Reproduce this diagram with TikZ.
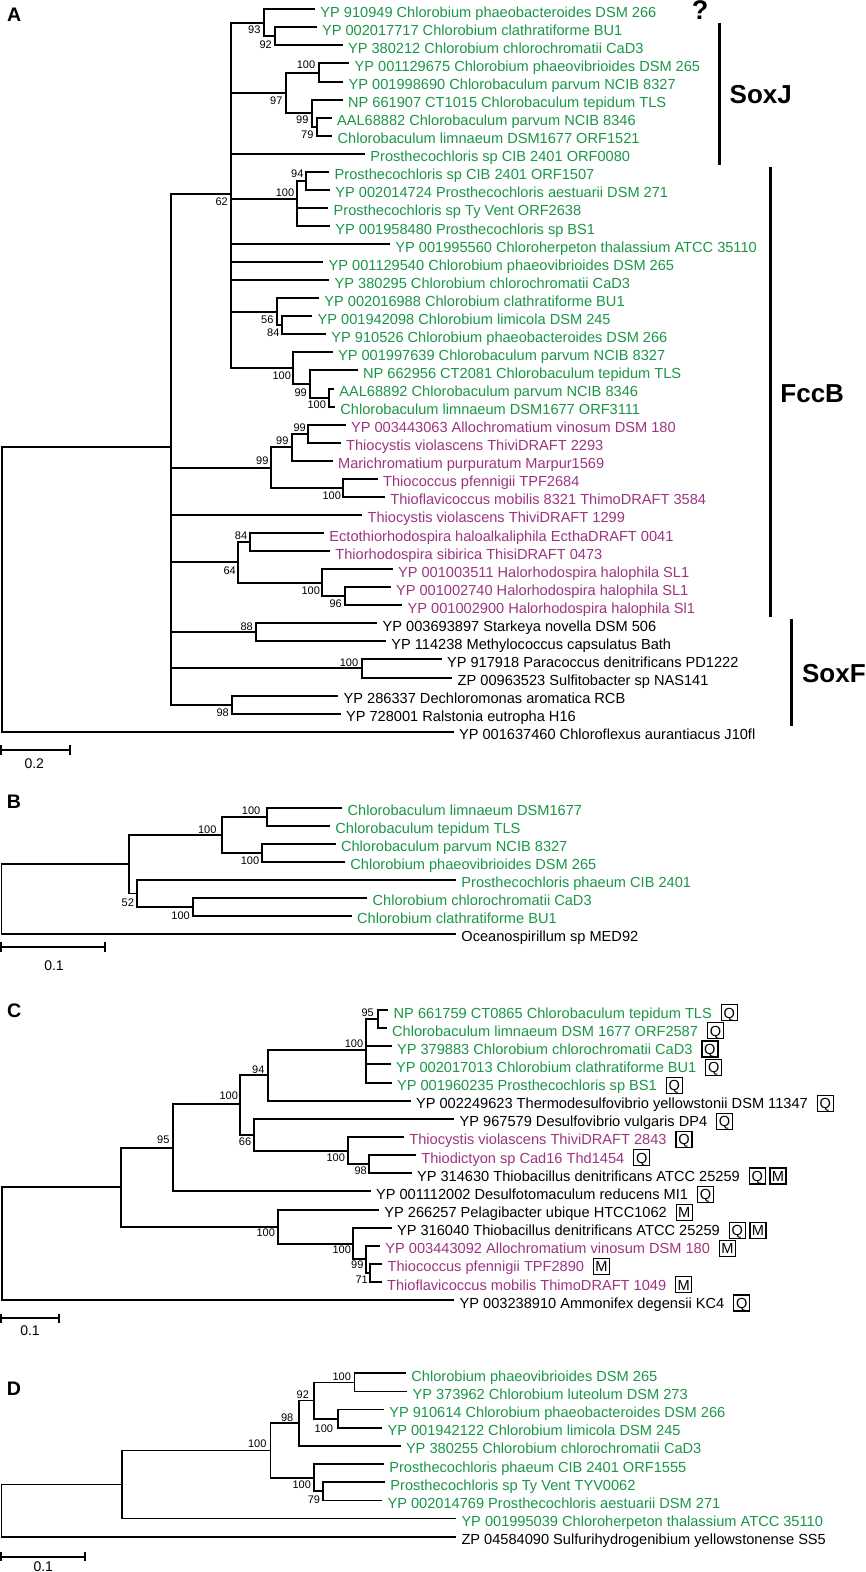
\documentclass[tikz,border=0pt]{standalone}
\usepackage{fontspec}
\setmainfont{Liberation Sans}
\definecolor{gr}{RGB}{26,150,72}
\definecolor{pu}{RGB}{158,52,128}
\tikzset{
 br/.style={line width=1pt},
 brt/.style={line width=0.85pt},
 leaf/.style={anchor=base west, inner sep=0pt, font=\fontsize{7.3}{8}\selectfont},
 bs/.style={inner sep=0pt, font=\fontsize{5.5}{6}\selectfont},
 sclab/.style={inner sep=0pt, font=\fontsize{7}{8}\selectfont},
 panel/.style={inner sep=0pt, font=\fontsize{9.8}{10}\selectfont\bfseries},
 grp/.style={anchor=west, inner sep=0pt, font=\fontsize{13}{14}\selectfont\bfseries},
 grpbar/.style={line width=1.5pt},
 badge/.style={draw, line width=0.6pt, anchor=base west, minimum width=8pt, minimum height=8pt, inner sep=0pt, text height=5.3pt, text depth=0pt, font=\fontsize{7.3}{8}\selectfont},
}
\newcommand{\leafnode}[5]{\coordinate (#1) at ({#2-5},#3);
  \node[leaf,text=#4] (#1t) at ([xshift=2.5pt,yshift=-4pt]#1) {#5};}
\newcommand{\badgenode}[3]{\node[badge] (#1) at ([xshift=4.2pt]#2.base east) {#3};}
\newcommand{\badgenext}[3]{\node[badge] (#1) at ([xshift=1.8pt]#2.base east) {#3};}
\begin{document}
\begin{tikzpicture}[x=0.5pt,y=-0.5pt]
\useasboundingbox (0,0) rectangle (866,1572);

%%%%%%%%%%%%%%%% Panel A
\node[panel] (pA) at (14.3,15) {A};
\begin{scope}[shift={(0,-8.76)}, y=-9.03pt]
\coordinate (nA0) at (1.5,33.1);
\coordinate (nAX) at (171.3,25.25);
\coordinate (n62) at (231,11.25);
\coordinate (n93) at (264,1.75);
\coordinate (n92) at (275,2.5);
\coordinate (n97) at (285.7,5.625);
\coordinate (n100a) at (319,4.5);
\coordinate (n99a) at (311.7,6.75);
\coordinate (n79) at (316.7,7.5);
\coordinate (n100b) at (297.3,11.5);
\coordinate (n94) at (306,10.5);
\coordinate (n56) at (276.7,17.75);
\coordinate (n84a) at (282,18.5);
\coordinate (n100c) at (293.3,20.875);
\coordinate (n99b) at (310,21.75);
\coordinate (n100d) at (329.3,22.5);
\coordinate (n99p3) at (271,26.375);
\coordinate (n99p2) at (291.7,25.25);
\coordinate (n99p1) at (308.3,24.5);
\coordinate (n100p) at (343.3,27.5);
\coordinate (n64) at (238.3,31.625);
\coordinate (n84b) at (250,30.5);
\coordinate (n100h) at (322.3,32.75);
\coordinate (n96) at (345,33.5);
\coordinate (n88) at (255.7,35.5);
\coordinate (n100s) at (361.7,37.5);
\coordinate (n98) at (231.7,39.5);

\leafnode{a1}{320}{1}{gr}{YP 910949 Chlorobium phaeobacteroides DSM 266}
\leafnode{a2}{321.7}{2}{gr}{YP 002017717 Chlorobium clathratiforme BU1}
\leafnode{a3}{347.7}{3}{gr}{YP 380212 Chlorobium chlorochromatii CaD3}
\leafnode{a4}{354.3}{4}{gr}{YP 001129675 Chlorobium phaeovibrioides DSM 265}
\leafnode{a5}{348.3}{5}{gr}{YP 001998690 Chlorobaculum parvum NCIB 8327}
\leafnode{a6}{347.7}{6}{gr}{NP 661907 CT1015 Chlorobaculum tepidum TLS}
\leafnode{a7}{336.7}{7}{gr}{AAL68882 Chlorobaculum parvum NCIB 8346}
\leafnode{a8}{337.3}{8}{gr}{Chlorobaculum limnaeum DSM1677 ORF1521}
\leafnode{a9}{370}{9}{gr}{Prosthecochloris sp CIB 2401 ORF0080}
\leafnode{a10}{334.3}{10}{gr}{Prosthecochloris sp CIB 2401 ORF1507}
\leafnode{a11}{335}{11}{gr}{YP 002014724 Prosthecochloris aestuarii DSM 271}
\leafnode{a12}{333.3}{12}{gr}{Prosthecochloris sp Ty Vent ORF2638}
\leafnode{a13}{335}{13}{gr}{YP 001958480 Prosthecochloris sp BS1}
\leafnode{a14}{395}{14}{gr}{YP 001995560 Chloroherpeton thalassium ATCC 35110}
\leafnode{a15}{328.3}{15}{gr}{YP 001129540 Chlorobium phaeovibrioides DSM 265}
\leafnode{a16}{334.3}{16}{gr}{YP 380295 Chlorobium chlorochromatii CaD3}
\leafnode{a17}{324}{17}{gr}{YP 002016988 Chlorobium clathratiforme BU1}
\leafnode{a18}{317.3}{18}{gr}{YP 001942098 Chlorobium limicola DSM 245}
\leafnode{a19}{331}{19}{gr}{YP 910526 Chlorobium phaeobacteroides DSM 266}
\leafnode{a20}{337.7}{20}{gr}{YP 001997639 Chlorobaculum parvum NCIB 8327}
\leafnode{a21}{362.7}{21}{gr}{NP 662956 CT2081 Chlorobaculum tepidum TLS}
\leafnode{a22}{339}{22}{gr}{AAL68892 Chlorobaculum parvum NCIB 8346}
\leafnode{a23}{340}{23}{gr}{Chlorobaculum limnaeum DSM1677 ORF3111}
\leafnode{a24}{350.7}{24}{pu}{YP 003443063 Allochromatium vinosum DSM 180}
\leafnode{a25}{345.7}{25}{pu}{Thiocystis violascens ThiviDRAFT 2293}
\leafnode{a26}{337.7}{26}{pu}{Marichromatium purpuratum Marpur1569}
\leafnode{a27}{382.7}{27}{pu}{Thiococcus pfennigii TPF2684}
\leafnode{a28}{390}{28}{pu}{Thioflavicoccus mobilis 8321 ThimoDRAFT 3584}
\leafnode{a29}{367.3}{29}{pu}{Thiocystis violascens ThiviDRAFT 1299}
\leafnode{a30}{329}{30}{pu}{Ectothiorhodospira haloalkaliphila EcthaDRAFT 0041}
\leafnode{a31}{335}{31}{pu}{Thiorhodospira sibirica ThisiDRAFT 0473}
\leafnode{a32}{397.7}{32}{pu}{YP 001003511 Halorhodospira halophila SL1}
\leafnode{a33}{395.7}{33}{pu}{YP 001002740 Halorhodospira halophila SL1}
\leafnode{a34}{407.3}{34}{pu}{YP 001002900 Halorhodospira halophila Sl1}
\leafnode{a35}{382.3}{35}{black}{YP 003693897 Starkeya novella DSM 506}
\leafnode{a36}{391}{36}{black}{YP 114238 Methylococcus capsulatus Bath}
\leafnode{a37}{446.7}{37}{black}{YP 917918 Paracoccus denitrificans PD1222}
\leafnode{a38}{457.3}{38}{black}{ZP 00963523 Sulfitobacter sp NAS141}
\leafnode{a39}{343.3}{39}{black}{YP 286337 Dechloromonas aromatica RCB}
\leafnode{a40}{345.7}{40}{black}{YP 728001 Ralstonia eutropha H16}
\leafnode{a41}{458.7}{41}{black}{YP 001637460 Chloroflexus aurantiacus J10fl}

\foreach \p/\c in {nA0/nAX,nA0/a41,
  nAX/n62,nAX/n99p3,nAX/a29,nAX/n64,nAX/n88,nAX/n100s,nAX/n98,
  n62/n93,n62/n97,n62/a9,n62/n100b,n62/a14,n62/a15,n62/a16,n62/n56,n62/n100c,
  n93/a1,n93/n92,n92/a2,n92/a3,
  n97/n100a,n97/n99a,n100a/a4,n100a/a5,n99a/a6,n99a/n79,n79/a7,n79/a8,
  n100b/n94,n100b/a12,n100b/a13,n94/a10,n94/a11,
  n56/a17,n56/n84a,n84a/a18,n84a/a19,
  n100c/a20,n100c/n99b,n99b/a21,n99b/n100d,n100d/a22,n100d/a23,
  n99p3/n99p2,n99p3/n100p,n99p2/n99p1,n99p2/a26,n99p1/a24,n99p1/a25,n100p/a27,n100p/a28,
  n64/n84b,n64/n100h,n84b/a30,n84b/a31,n100h/a32,n100h/n96,n96/a33,n96/a34,
  n88/a35,n88/a36,n100s/a37,n100s/a38,n98/a39,n98/a40}
  \draw[br] (\p) |- (\c);
\end{scope}

\foreach \x/\y/\t [count=\i] in {254.3/30/93,265.7/44.3/92,306/65/100,276.3/100.7/97,302.3/120/99,
  307.3/135/79,297.3/174/94,285/192.3/100,221.7/201.7/62,267.3/319.3/56,273.3/332.7/84,
  281.7/376/100,300.7/392.7/99,316.7/405/100,299.7/427.7/99,282.3/441/99,262.3/461/99,
  331.7/495.7/100,241/535.7/84,229.7/570.7/64,310.7/590.7/100,335.7/604/96,246.7/626.7/88,
  349/662.7/100,222.7/712.3/98}
  \node[bs] (lA\i) at (\x,\y) {\t};

\node[inner sep=0pt, font=\fontsize{13.5}{14}\selectfont\bfseries] (qm) at (700,10.5) {?};
\coordinate (sjt) at (719,22.7); \coordinate (sjb) at (719,165);
\draw[grpbar] (sjt) -- (sjb);
\node[grp] (soxj) at (729.3,94.3) {SoxJ};
\coordinate (fbt) at (770.7,166.7); \coordinate (fbb) at (770.7,617.3);
\draw[grpbar] (fbt) -- (fbb);
\node[grp] (fccb) at (780,393.3) {FccB};
\coordinate (sft) at (791,619.3); \coordinate (sfb) at (791,725.7);
\draw[grpbar] (sft) -- (sfb);
\node[grp] (soxf) at (801.7,673.3) {SoxF};

\coordinate (sAl) at (1,750); \coordinate (sAr) at (70,750);
\draw[br] (sAl) -- (sAr) ([yshift=2.3pt]sAl) -- ([yshift=-2.3pt]sAl) ([yshift=2.3pt]sAr) -- ([yshift=-2.3pt]sAr);
\node[sclab] (sAt) at (34.3,763.3) {0.2};

%%%%%%%%%%%%%%%% Panel B
\node[panel] (pB) at (13.9,802) {B};
\begin{scope}[shift={(0,789.66)}, y=-9.02pt]
\coordinate (nB0) at (1.5,6.06);
\coordinate (nB5) at (128.9,4.125);
\coordinate (nB100c) at (222.2,2.5);
\coordinate (nB100a) at (266.7,1.5);
\coordinate (nB100b) at (262.2,3.5);
\coordinate (nB52) at (137.2,5.75);
\coordinate (nB100d) at (192.8,6.5);
\leafnode{b1}{347.2}{1}{gr}{Chlorobaculum limnaeum DSM1677}
\leafnode{b2}{335}{2}{gr}{Chlorobaculum tepidum TLS}
\leafnode{b3}{340.6}{3}{gr}{Chlorobaculum parvum NCIB 8327}
\leafnode{b4}{350}{4}{gr}{Chlorobium phaeovibrioides DSM 265}
\leafnode{b5}{461}{5}{gr}{Prosthecochloris phaeum CIB 2401}
\leafnode{b6}{372.2}{6}{gr}{Chlorobium chlorochromatii CaD3}
\leafnode{b7}{356.7}{7}{gr}{Chlorobium clathratiforme BU1}
\leafnode{b8}{461}{8}{black}{Oceanospirillum sp MED92}
\foreach \p/\c in {nB0/nB5,nB0/b8,nB5/nB100c,nB5/nB52,nB100c/nB100a,nB100c/nB100b,
  nB100a/b1,nB100a/b2,nB100b/b3,nB100b/b4,nB52/b5,nB52/nB100d,nB100d/b6,nB100d/b7}
  \draw[brt] (\p) |- (\c);
\end{scope}
\foreach \x/\y/\t [count=\i] in {251.1/810.7/100,207.2/829.3/100,250/860.7/100,127.8/902.7/52,180.6/915.7/100}
  \node[bs] (lB\i) at (\x,\y) {\t};
\coordinate (sBl) at (1,947); \coordinate (sBr) at (105,947);
\draw[brt] (sBl) -- (sBr) ([yshift=2.3pt]sBl) -- ([yshift=-2.3pt]sBl) ([yshift=2.3pt]sBr) -- ([yshift=-2.3pt]sBr);
\node[sclab] (sBt) at (54,966) {0.1};

%%%%%%%%%%%%%%%% Panel C
\node[panel] (pC) at (14.3,1011) {C};
\begin{scope}[shift={(0,991.86)}, y=-9.07pt]
\coordinate (nC0) at (1.5,13.9);
\coordinate (nC6) at (120.7,10.77);
\coordinate (nC95b) at (172.7,8.6);
\coordinate (nC100c) at (240,6.2);
\coordinate (nC94) at (267.7,4.6);
\coordinate (nC100a) at (366,3.2);
\coordinate (nC95) at (377.7,1.5);
\coordinate (nC66) at (254,7.875);
\coordinate (nC100b) at (347.7,8.75);
\coordinate (nC98) at (369.3,9.5);
\coordinate (nC100e) at (277.7,12.94);
\coordinate (nC100d) at (353.3,13.875);
\coordinate (nC99) at (366,14.75);
\coordinate (nC71) at (370,15.5);
\leafnode{c1}{393.3}{1}{gr}{NP 661759 CT0865 Chlorobaculum tepidum TLS}
\leafnode{c2}{391.7}{2}{gr}{Chlorobaculum limnaeum DSM 1677 ORF2587}
\leafnode{c3}{396.7}{3}{gr}{YP 379883 Chlorobium chlorochromatii CaD3}
\leafnode{c4}{395.7}{4}{gr}{YP 002017013 Chlorobium clathratiforme BU1}
\leafnode{c5}{396.7}{5}{gr}{YP 001960235 Prosthecochloris sp BS1}
\leafnode{c6}{415.7}{6}{black}{YP 002249623 Thermodesulfovibrio yellowstonii DSM 11347}
\leafnode{c7}{459.3}{7}{black}{YP 967579 Desulfovibrio vulgaris DP4}
\leafnode{c8}{409}{8}{pu}{Thiocystis violascens ThiviDRAFT 2843}
\leafnode{c9}{421}{9}{pu}{Thiodictyon sp Cad16 Thd1454}
\leafnode{c10}{416.7}{10}{black}{YP 314630 Thiobacillus denitrificans ATCC 25259}
\leafnode{c11}{375.7}{11}{black}{YP 001112002 Desulfotomaculum reducens MI1}
\leafnode{c12}{384}{12}{black}{YP 266257 Pelagibacter ubique HTCC1062}
\leafnode{c13}{396.7}{13}{black}{YP 316040 Thiobacillus denitrificans ATCC 25259}
\leafnode{c14}{385}{14}{pu}{YP 003443092 Allochromatium vinosum DSM 180}
\leafnode{c15}{387.3}{15}{pu}{Thiococcus pfennigii TPF2890}
\leafnode{c16}{386.7}{16}{pu}{Thioflavicoccus mobilis ThimoDRAFT 1049}
\leafnode{c17}{459.3}{17}{black}{YP 003238910 Ammonifex degensii KC4}
\foreach \p/\c in {nC0/nC6,nC0/c17,nC6/nC95b,nC6/nC100e,nC95b/nC100c,nC95b/c11,
  nC100c/nC94,nC100c/nC66,nC94/nC100a,nC94/c6,nC100a/nC95,nC100a/c3,nC100a/c4,nC100a/c5,
  nC95/c1,nC95/c2,nC66/c7,nC66/nC100b,nC100b/c8,nC100b/nC98,nC98/c9,nC98/c10,
  nC100e/c12,nC100e/nC100d,nC100d/c13,nC100d/nC99,nC99/c14,nC99/nC71,nC71/c15,nC71/c16}
  \draw[br] (\p) |- (\c);
\end{scope}
\badgenode{q1}{c1t}{Q}
\badgenode{q2}{c2t}{Q}
\badgenode{q3}{c3t}{Q}
\badgenode{q4}{c4t}{Q}
\badgenode{q5}{c5t}{Q}
\badgenode{q6}{c6t}{Q}
\badgenode{q7}{c7t}{Q}
\badgenode{q8}{c8t}{Q}
\badgenode{q9}{c9t}{Q}
\badgenode{q10}{c10t}{Q}\badgenext{m10}{q10}{M}
\badgenode{q11}{c11t}{Q}
\badgenode{m12}{c12t}{M}
\badgenode{q13}{c13t}{Q}\badgenext{m13}{q13}{M}
\badgenode{m14}{c14t}{M}
\badgenode{m15}{c15t}{M}
\badgenode{m16}{c16t}{M}
\badgenode{q17}{c17t}{Q}
\foreach \x/\y/\t [count=\i] in {367.7/1012.3/95,354/1043.3/100,258.3/1069.3/94,228.7/1095.7/100,
  245/1141.7/66,335.7/1157.3/100,360.7/1171/98,163.3/1140/95,265.7/1232.7/100,341.7/1250/100,
  357.3/1265/99,361.7/1280/71}
  \node[bs] (lC\i) at (\x,\y) {\t};
\coordinate (sCl) at (1,1318.3); \coordinate (sCr) at (59.3,1318.3);
\draw[br] (sCl) -- (sCr) ([yshift=2.3pt]sCl) -- ([yshift=-2.3pt]sCl) ([yshift=2.3pt]sCr) -- ([yshift=-2.3pt]sCr);
\node[sclab] (sCt) at (30,1330.7) {0.1};

%%%%%%%%%%%%%%%% Panel D
\node[panel] (pD) at (13.9,1388.3) {D};
\begin{scope}[shift={(0,1355.15)}, y=-9.075pt]
\coordinate (nD0) at (1.5,8.56);
\coordinate (nD5) at (122.2,7.125);
\coordinate (nD100d) at (270.6,5.25);
\coordinate (nD98) at (298.9,3.75);
\coordinate (nD92) at (313.9,2.5);
\coordinate (nD100a) at (354.4,1.5);
\coordinate (nD100b) at (337.8,3.5);
\coordinate (nD100c) at (313.9,6.75);
\coordinate (nD79) at (323.3,7.5);
\leafnode{d1}{411}{1}{gr}{Chlorobium phaeovibrioides DSM 265}
\leafnode{d2}{412.2}{2}{gr}{YP 373962 Chlorobium luteolum DSM 273}
\leafnode{d3}{388.9}{3}{gr}{YP 910614 Chlorobium phaeobacteroides DSM 266}
\leafnode{d4}{387.2}{4}{gr}{YP 001942122 Chlorobium limicola DSM 245}
\leafnode{d5}{405.6}{5}{gr}{YP 380255 Chlorobium chlorochromatii CaD3}
\leafnode{d6}{388.9}{6}{gr}{Prosthecochloris phaeum CIB 2401 ORF1555}
\leafnode{d7}{390}{7}{gr}{Prosthecochloris sp Ty Vent TYV0062}
\leafnode{d8}{387.2}{8}{gr}{YP 002014769 Prosthecochloris aestuarii DSM 271}
\leafnode{d9}{461.1}{9}{gr}{YP 001995039 Chloroherpeton thalassium ATCC 35110}
\leafnode{d10}{461.1}{10}{black}{ZP 04584090 Sulfurihydrogenibium yellowstonense SS5}
\foreach \p/\c in {nD0/nD5,nD0/d10,nD5/nD100d,nD5/d9,nD100d/nD98,nD100d/nD100c,
  nD98/nD92,nD98/d5,nD92/nD100a,nD92/nD100b,nD100a/d1,nD100a/d2,nD100b/d3,nD100b/d4,
  nD100c/d6,nD100c/nD79,nD79/d7,nD79/d8}
  \draw[brt] (\p) |- (\c);
\end{scope}
\foreach \x/\y/\t [count=\i] in {341.7/1376.7/100,302.8/1395/92,287.2/1417.3/98,323.9/1428.3/100,
  257.2/1444/100,301.7/1484.3/100,313.9/1500/79}
  \node[bs] (lD\i) at (\x,\y) {\t};
\coordinate (sDl) at (1,1556.7); \coordinate (sDr) at (85,1556.7);
\draw[brt] (sDl) -- (sDr) ([yshift=2.3pt]sDl) -- ([yshift=-2.3pt]sDl) ([yshift=2.3pt]sDr) -- ([yshift=-2.3pt]sDr);
\node[sclab] (sDt) at (43.3,1566.5) {0.1};
\end{tikzpicture}
\end{document}
